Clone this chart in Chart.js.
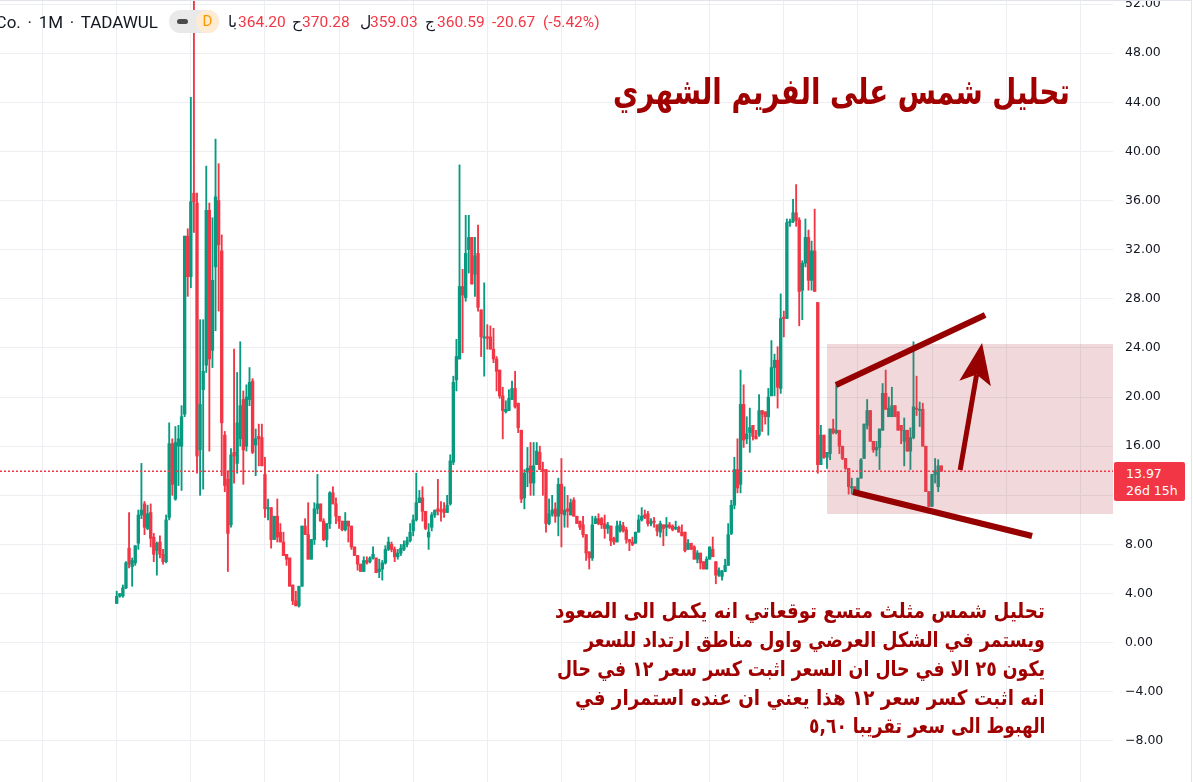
<!DOCTYPE html>
<html lang="ar">
<head>
<meta charset="UTF-8" />
<title>تحليل شمس على الفريم الشهري</title>
<script src="https://cdn.jsdelivr.net/npm/chart.js@4.4.0/dist/chart.umd.min.js"></script>
<style>
  body { margin: 0; background: #fff; overflow: hidden; }
  .wrap { position: relative; width: 1193px; height: 782px; overflow: hidden; font-family: Roboto, 'DejaVu Sans', sans-serif; }
  .chart-box { position: absolute; left: 0; top: 0; width: 1193px; height: 782px; }
  .frame { position: absolute; left: 0; top: 0; width: 1191px; height: 782px; border-top: 1px solid #e0e3eb; border-right: 1px solid #e0e3eb; pointer-events: none; }
  .hdr { position: absolute; top: 12px; font-size: 15.5px; line-height: 20px; white-space: nowrap; color: #131722; }
  .hdr.red { color: #f23645; }
  .symbol { right: 1035px; font-size: 17px; word-spacing: 2.5px; }
  .pill { position: absolute; left: 169px; top: 10px; width: 50px; height: 23px; border-radius: 12px; background: #e9e9ea; }
  .pill .dash { position: absolute; left: 8px; top: 9px; width: 11px; height: 5px; border-radius: 3px; background: #4a4a4a; }
  .pill .d { position: absolute; left: 27px; top: 0; width: 23px; height: 23px; border-radius: 50%; background: #fdebd3; color: #ff9800; font-size: 15px; line-height: 23px; text-align: center; }
  .ar { position: absolute; white-space: nowrap; font-family: 'DejaVu Sans', sans-serif; font-weight: bold; color: #a00000; direction: rtl; transform-origin: right center; line-height: 1; }
  .title { right: 123px; top: 74px; font-size: 36px; }
  .note { right: 148px; font-size: 21px; }
  .last { position: absolute; left: 1114px; top: 462px; width: 71px; height: 39px; border-radius: 2px; background: #f23645; color: #fff; font-family: 'DejaVu Sans', sans-serif; font-size: 12.5px; line-height: 17px; padding: 3px 0 0 12px; box-sizing: border-box; }
</style>
</head>
<body>
<div class="wrap">
  <div class="chart-box"><canvas id="shamsChart"></canvas></div>
  <div class="frame"></div>

  <div class="hdr symbol">Co. · 1M · TADAWUL</div>
  <div class="pill"><div class="dash"></div><div class="d">D</div></div>
  <div class="hdr" style="left:228px">با</div>
  <div class="hdr red" style="left:238px">364.20</div>
  <div class="hdr" style="left:292px">ح</div>
  <div class="hdr red" style="left:302px">370.28</div>
  <div class="hdr" style="left:360px">ل</div>
  <div class="hdr red" style="left:370px">359.03</div>
  <div class="hdr" style="left:425px">ج</div>
  <div class="hdr red" style="left:437px">360.59</div>
  <div class="hdr red" style="left:492px">-20.67</div>
  <div class="hdr red" style="left:543px">(-5.42%)</div>

  <div class="ar title" data-w="457">تحليل شمس على الفريم الشهري</div>

  <div class="ar note" style="top:601px" data-w="490">تحليل شمس مثلث متسع توقعاتي انه يكمل الى الصعود</div>
  <div class="ar note" style="top:630px" data-w="461">ويستمر في الشكل العرضي واول مناطق ارتداد للسعر</div>
  <div class="ar note" style="top:659px" data-w="488">يكون ٢٥  الا في حال ان السعر اثبت كسر سعر ١٢  في حال</div>
  <div class="ar note" style="top:688px" data-w="470">انه اثبت كسر سعر ١٢ هذا يعني ان عنده استمرار في</div>
  <div class="ar note" style="top:716px" data-w="236">الهبوط الى سعر تقريبا ٥,٦٠</div>

  <div class="last">13.97<br>26d 15h</div>
</div>

<script>
  // monthly candles (index 0 = first month)
  const opens = [
    3.2, 3.8, 3.8, 4.46, 7.7, 6.2, 6.5, 8.1, 10.4, 11.3,
    9.3, 10.6, 8.6, 7.5, 8.2, 7.2, 6.6, 10.2, 16.2, 11.7,
    16.0, 16.0, 18.6, 33.1, 29.8, 36.6, 35.8, 15.7, 20.6, 22.6,
    35.2, 23.8, 30.6, 36.0, 31.9, 16.9, 13.3, 9.6, 15.5, 14.6,
    16.6, 19.8, 16.0, 19.8, 21.3, 16.1, 16.8, 16.7, 13.7, 10.9,
    11.0, 8.4, 10.3, 9.0, 8.2, 7.2, 6.9, 4.7, 3.4, 3.0,
    4.6, 9.5, 8.8, 6.8, 8.4, 10.9, 11.3, 9.9, 8.4, 9.7,
    12.2, 11.3, 10.3, 9.9, 9.2, 9.9, 9.5, 7.8, 7.1, 6.4,
    5.8, 6.7, 6.6, 6.9, 6.9, 5.8, 6.0, 6.5, 7.6, 8.0,
    7.6, 7.0, 7.3, 7.6, 8.0, 8.3, 9.1, 10.0, 11.4, 11.8,
    10.7, 8.6, 9.4, 10.4, 10.9, 10.8, 10.9, 10.6, 11.3, 14.7,
    21.4, 23.1, 29.0, 28.1, 32.0, 33.0, 30.0, 31.7, 27.1, 24.8,
    24.9, 24.9, 23.9, 23.1, 22.2, 20.1, 18.8, 18.9, 19.8, 20.7,
    19.5, 17.3, 11.8, 13.9, 14.4, 13.0, 14.5, 15.5, 14.1, 14.1,
    9.7, 10.5, 10.9, 10.3, 12.9, 10.4, 10.9, 10.4, 11.6, 10.3,
    9.9, 9.6, 8.8, 7.4, 6.9, 9.7, 10.1, 10.1, 9.7, 9.3,
    9.5, 8.5, 8.2, 9.1, 9.5, 9.2, 8.4, 8.2, 8.1, 9.0,
    10.0, 10.4, 10.5, 9.7, 9.9, 9.6, 9.0, 9.6, 9.4, 9.6,
    9.5, 9.3, 9.4, 9.0, 9.0, 7.6, 8.1, 7.8, 6.8, 7.3,
    6.6, 6.0, 6.8, 7.6, 6.6, 5.5, 5.4, 5.8, 6.3, 8.9,
    11.2, 14.1, 12.9, 19.4, 16.6, 17.1, 17.7, 16.8, 16.9, 18.9,
    18.8, 18.4, 20.1, 22.4, 23.0, 20.7, 26.5, 26.4, 34.2, 34.3,
    35.0, 34.4, 28.7, 30.9, 33.0, 29.5, 31.9, 27.7, 14.5, 16.9,
    15.1, 15.4, 17.4, 17.1, 17.3, 16.0, 15.0, 14.2, 12.6, 12.7,
    12.2, 13.4, 15.0, 17.7, 18.9, 16.4, 15.7, 15.9, 17.3, 20.3,
    18.4, 18.4, 19.3, 18.8, 17.7, 16.4, 17.3, 15.6, 16.7, 19.1,
    19.0, 19.0, 16.0, 12.3, 11.1, 13.7, 12.7, 14.4
  ];
  const highs = [
    4.2, 4.0, 4.7, 6.6, 10.6, 6.9, 7.9, 10.8, 14.6, 11.5,
    11.2, 11.3, 8.9, 8.2, 8.7, 7.6, 10.4, 17.9, 16.6, 17.6,
    17.7, 19.3, 33.1, 33.7, 44.4, 53.0, 36.6, 26.3, 26.3, 38.8,
    35.8, 34.6, 41.0, 39.0, 33.2, 17.2, 14.0, 15.8, 23.9, 22.0,
    24.5, 20.5, 21.0, 22.4, 21.5, 17.4, 17.8, 17.8, 15.1, 11.7,
    11.0, 10.3, 11.7, 9.7, 9.0, 7.2, 6.9, 4.7, 4.2, 4.6,
    9.5, 10.1, 11.4, 8.4, 11.4, 13.7, 11.3, 10.1, 9.7, 12.3,
    12.7, 11.8, 10.3, 9.9, 10.6, 9.9, 9.5, 7.8, 7.1, 6.4,
    7.0, 7.0, 7.0, 7.8, 6.9, 6.8, 6.7, 7.9, 8.6, 8.2,
    7.8, 7.6, 8.0, 8.3, 8.6, 9.7, 10.4, 13.8, 12.4, 12.7,
    10.7, 9.7, 10.6, 10.8, 13.3, 11.5, 11.4, 12.0, 15.3, 21.7,
    24.7, 38.9, 30.4, 34.8, 34.8, 33.0, 33.0, 34.0, 27.1, 29.3,
    25.9, 25.8, 25.6, 23.3, 22.2, 20.8, 19.7, 20.6, 21.3, 22.1,
    19.5, 17.3, 14.1, 15.9, 16.3, 16.3, 16.3, 16.0, 14.7, 14.1,
    11.7, 12.0, 11.4, 13.4, 15.0, 12.7, 12.0, 11.7, 11.8, 10.3,
    9.9, 10.3, 8.8, 7.4, 10.3, 10.3, 10.5, 10.2, 10.4, 9.8,
    9.5, 8.6, 9.9, 9.9, 9.8, 9.4, 8.4, 8.6, 9.0, 10.4,
    11.0, 10.8, 10.7, 10.1, 10.2, 9.6, 9.9, 9.6, 10.2, 9.8,
    9.6, 9.9, 9.5, 9.6, 9.0, 8.4, 8.1, 7.9, 7.5, 7.3,
    6.6, 7.0, 7.8, 8.6, 6.6, 6.1, 5.9, 6.8, 9.7, 11.6,
    15.1, 16.6, 22.2, 21.0, 18.4, 19.1, 17.7, 17.3, 20.2, 18.9,
    18.8, 20.7, 24.6, 23.5, 24.1, 28.4, 27.0, 34.5, 34.5, 36.1,
    37.3, 34.6, 31.1, 34.5, 33.6, 32.7, 35.3, 27.7, 17.7, 16.9,
    15.5, 17.4, 18.2, 21.0, 17.3, 16.0, 15.0, 14.2, 13.4, 12.7,
    13.4, 15.0, 17.8, 19.8, 18.9, 16.4, 16.4, 17.4, 21.1, 22.2,
    20.0, 20.8, 19.3, 18.8, 17.7, 18.3, 17.3, 17.5, 24.5, 21.7,
    19.6, 19.5, 16.0, 12.3, 13.7, 15.0, 14.9, 14.4
  ];
  const lows = [
    3.2, 3.7, 3.7, 4.4, 6.1, 4.6, 6.3, 7.6, 10.1, 8.8,
    9.2, 7.8, 6.6, 5.5, 6.9, 6.4, 6.5, 10.0, 12.0, 11.6,
    12.8, 12.4, 18.4, 28.2, 28.9, 33.4, 13.8, 12.0, 12.5, 22.0,
    15.6, 22.4, 25.4, 27.0, 13.6, 12.3, 5.8, 9.4, 13.0, 13.8,
    16.0, 12.9, 15.6, 19.3, 15.4, 13.6, 14.4, 14.4, 10.2, 10.0,
    7.7, 8.4, 8.2, 8.2, 7.1, 6.3, 4.6, 3.1, 3.0, 2.9,
    4.6, 8.8, 6.8, 6.8, 8.0, 10.5, 9.9, 8.3, 7.8, 9.3,
    11.3, 9.7, 9.3, 9.1, 9.1, 8.2, 7.6, 7.1, 5.9, 5.8,
    5.8, 6.4, 6.5, 6.8, 5.7, 5.3, 5.1, 6.4, 7.5, 7.4,
    6.6, 6.8, 7.1, 7.5, 7.8, 8.2, 8.7, 9.9, 11.4, 9.9,
    9.2, 7.6, 9.1, 10.2, 10.4, 9.9, 10.2, 10.6, 11.2, 14.5,
    20.5, 23.1, 23.6, 27.8, 30.1, 29.2, 28.2, 27.0, 23.3, 21.7,
    23.9, 23.9, 22.8, 20.5, 19.9, 16.6, 18.7, 18.9, 19.8, 19.1,
    17.1, 11.4, 10.9, 12.7, 12.0, 12.0, 14.5, 14.1, 12.0, 9.0,
    9.6, 10.3, 9.8, 8.7, 7.8, 9.4, 9.4, 10.4, 10.3, 9.7,
    9.2, 8.6, 6.7, 6.0, 6.7, 9.7, 9.6, 9.3, 8.5, 8.9,
    7.9, 8.0, 8.2, 9.0, 9.0, 8.1, 7.5, 7.9, 8.1, 9.0,
    9.9, 10.1, 9.5, 9.5, 9.4, 8.7, 8.6, 7.9, 8.7, 9.3,
    9.1, 9.2, 9.0, 8.7, 7.4, 7.6, 7.6, 6.8, 6.5, 6.0,
    6.0, 6.0, 6.8, 7.0, 4.8, 5.4, 5.1, 5.8, 6.3, 8.8,
    10.9, 12.2, 12.2, 15.9, 16.2, 15.5, 16.5, 16.6, 16.8, 17.2,
    17.8, 16.9, 20.1, 20.1, 19.1, 20.3, 24.9, 26.4, 33.9, 34.2,
    33.9, 25.8, 26.3, 30.6, 28.7, 28.7, 28.6, 13.8, 14.5, 15.0,
    14.2, 14.9, 17.0, 17.0, 15.4, 14.9, 14.1, 12.1, 12.1, 12.2,
    12.2, 13.4, 15.0, 17.4, 16.4, 15.5, 15.2, 14.1, 17.3, 19.0,
    18.4, 18.4, 18.4, 17.3, 16.2, 14.4, 15.6, 14.1, 16.6, 18.5,
    17.6, 16.0, 12.3, 11.1, 11.1, 13.0, 12.3, 13.97
  ];
  const closes = [
    3.77, 4.0, 4.46, 6.5, 6.4, 6.7, 7.9, 10.4, 10.8, 9.4,
    10.5, 8.5, 7.2, 8.1, 7.2, 6.6, 10.0, 16.2, 12.9, 16.3,
    16.6, 18.4, 33.1, 29.8, 35.9, 35.9, 15.2, 19.4, 22.1, 35.2,
    23.1, 29.5, 36.3, 32.4, 17.9, 12.8, 8.9, 15.3, 15.2, 17.9,
    19.3, 15.7, 20.0, 21.2, 15.5, 16.6, 16.6, 14.4, 10.9, 11.0,
    8.4, 10.3, 8.6, 8.2, 7.1, 6.8, 4.6, 3.4, 3.0, 4.6,
    9.5, 8.8, 6.8, 8.4, 10.9, 11.3, 9.9, 8.4, 9.7, 12.2,
    11.3, 10.3, 9.9, 9.2, 9.9, 9.5, 7.8, 7.1, 6.4, 5.8,
    6.7, 6.5, 6.9, 7.2, 5.7, 6.0, 6.5, 7.6, 8.2, 7.6,
    7.0, 7.3, 7.7, 8.0, 8.3, 9.0, 10.0, 11.4, 11.8, 10.7,
    9.3, 9.0, 10.4, 10.8, 10.7, 10.7, 10.6, 11.2, 14.8, 21.2,
    23.3, 29.0, 28.3, 31.7, 33.0, 29.2, 31.5, 27.3, 24.9, 24.9,
    24.8, 23.9, 23.1, 22.1, 20.1, 18.9, 19.0, 19.9, 20.7, 19.2,
    17.5, 11.7, 13.8, 14.2, 13.0, 14.4, 15.6, 14.1, 14.0, 9.7,
    10.5, 10.8, 10.3, 12.9, 10.5, 10.8, 10.7, 11.4, 10.3, 9.7,
    9.4, 8.8, 7.3, 6.9, 9.6, 10.1, 9.7, 9.6, 9.3, 9.6,
    8.3, 8.2, 9.5, 9.6, 9.1, 8.4, 8.2, 8.0, 9.0, 10.0,
    10.3, 10.2, 9.7, 9.9, 9.8, 9.1, 9.7, 9.3, 9.6, 9.4,
    9.2, 9.4, 9.0, 8.7, 7.5, 8.1, 7.6, 6.8, 7.3, 6.5,
    6.0, 6.8, 7.8, 7.0, 5.5, 5.9, 5.8, 6.3, 8.8, 11.2,
    14.1, 12.6, 19.4, 16.5, 17.0, 17.5, 16.8, 16.6, 18.9, 18.6,
    18.4, 20.0, 22.4, 23.0, 20.8, 26.4, 26.4, 34.2, 34.3, 35.0,
    34.4, 28.6, 30.9, 33.0, 29.5, 31.9, 28.6, 14.5, 16.9, 15.1,
    15.5, 17.4, 17.1, 17.3, 16.0, 15.0, 14.2, 12.7, 12.7, 12.2,
    13.4, 14.9, 17.8, 18.9, 16.4, 15.7, 15.9, 17.4, 20.3, 19.0,
    19.1, 19.3, 18.4, 17.3, 17.3, 17.3, 15.6, 16.7, 19.2, 19.0,
    19.0, 16.0, 12.3, 11.1, 13.7, 14.0, 14.4, 13.97
  ];

  // price axis ticks and the two-year time grid (in month index)
  const priceTicks = [-8, -4, 0, 4, 8, 12, 16, 20, 24, 28, 32, 36, 40, 44, 48, 52];
  const timeGrid = [-24, 0, 24, 48, 72, 96, 120, 144, 168, 192, 216, 240, 264, 288, 312];

  // drawings on the chart, in (month index, price)
  const zone = { from: 230.0, top: 24.32, bottom: 10.48 };
  const upperLine = [[232.9, 20.98], [281.2, 26.68]];
  const lowerLine = [[238.4, 12.27], [296.4, 8.69]];
  const arrowLine = [[273.1, 14.06], [280.2, 24.4]];

  const UP = '#089981';
  const DOWN = '#f23645';
  const MAROON = '#960000';

  const idx = opens.map((_, i) => i);
  const candleColors = idx.map(i => closes[i] >= opens[i] ? UP : DOWN);

  const noPadding = axis => {
    axis.paddingTop = 0;
    axis.paddingBottom = 0;
    axis.paddingLeft = 0;
    axis.paddingRight = 0;
  };

  const drawings = {
    id: 'drawings',
    afterDatasetsDraw(chart) {
      const { ctx, chartArea: a, scales: { x, y } } = chart;
      const pt = (p) => [x.getPixelForValue(p[0]), y.getPixelForValue(p[1])];
      ctx.save();
      ctx.beginPath();
      ctx.rect(a.left, a.top, a.right - a.left, a.bottom - a.top);
      ctx.clip();

      // shaded zone
      const zx = x.getPixelForValue(zone.from);
      const zt = y.getPixelForValue(zone.top);
      const zb = y.getPixelForValue(zone.bottom);
      ctx.fillStyle = 'rgba(190, 80, 90, 0.22)';
      ctx.fillRect(zx, zt, a.right - zx, zb - zt);

      // wedge lines
      ctx.strokeStyle = MAROON;
      ctx.lineWidth = 6;
      ctx.lineCap = 'butt';
      [upperLine, lowerLine].forEach(line => {
        const p0 = pt(line[0]), p1 = pt(line[1]);
        ctx.beginPath();
        ctx.moveTo(p0[0], p0[1]);
        ctx.lineTo(p1[0], p1[1]);
        ctx.stroke();
      });

      // arrow up
      const b = pt(arrowLine[0]), t = pt(arrowLine[1]);
      const len = Math.hypot(t[0] - b[0], t[1] - b[1]);
      const ux = (t[0] - b[0]) / len, uy = (t[1] - b[1]) / len;
      const nx = -uy, ny = ux;
      const headLen = 41, headHalf = 16, notch = 9;
      ctx.lineWidth = 5;
      ctx.beginPath();
      ctx.moveTo(b[0], b[1]);
      ctx.lineTo(t[0] - ux * (headLen - notch), t[1] - uy * (headLen - notch));
      ctx.stroke();
      ctx.fillStyle = MAROON;
      ctx.beginPath();
      ctx.moveTo(t[0], t[1]);
      ctx.lineTo(t[0] - ux * headLen + nx * headHalf, t[1] - uy * headLen + ny * headHalf);
      ctx.lineTo(t[0] - ux * (headLen - notch), t[1] - uy * (headLen - notch));
      ctx.lineTo(t[0] - ux * headLen - nx * headHalf, t[1] - uy * headLen - ny * headHalf);
      ctx.closePath();
      ctx.fill();

      // last price line
      const py = y.getPixelForValue(closes[closes.length - 1]);
      ctx.strokeStyle = DOWN;
      ctx.lineWidth = 1.5;
      ctx.setLineDash([2, 2]);
      ctx.beginPath();
      ctx.moveTo(a.left, py);
      ctx.lineTo(a.right, py);
      ctx.stroke();
      ctx.restore();
    }
  };

  const ctx = document.getElementById('shamsChart').getContext('2d');
  new Chart(ctx, {
    type: 'bar',
    data: {
      datasets: [
        {
          label: 'wick',
          data: idx.map(i => ({ x: i, y: [lows[i], highs[i]] })),
          backgroundColor: candleColors,
          barThickness: 1.2,
          grouped: false,
          minBarLength: 1,
          order: 2
        },
        {
          label: 'body',
          data: idx.map(i => ({ x: i, y: [opens[i], closes[i]] })),
          backgroundColor: candleColors,
          barThickness: 2.7,
          grouped: false,
          minBarLength: 1,
          order: 1
        }
      ]
    },
    options: {
      responsive: true,
      maintainAspectRatio: false,
      animation: false,
      layout: { padding: 0 },
      plugins: { legend: { display: false }, tooltip: { enabled: false } },
      scales: {
        x: {
          type: 'linear',
          offset: false,
          min: -37.79,
          max: 322.6,
          afterBuildTicks: axis => { axis.ticks = timeGrid.map(v => ({ value: v })); },
          afterFit: axis => { axis.height = 0; noPadding(axis); },
          ticks: { display: false },
          grid: { color: '#eceef1', drawTicks: false, offset: false },
          border: { display: false }
        },
        y: {
          position: 'right',
          min: -11.338,
          max: 52.326,
          afterBuildTicks: axis => { axis.ticks = priceTicks.map(v => ({ value: v })); },
          afterFit: axis => { axis.width = 80; noPadding(axis); },
          ticks: {
            padding: 12,
            color: '#131722',
            font: { family: 'DejaVu Sans', size: 12.5 },
            callback: v => (v < 0 ? '\u2212' : '') + Math.abs(v).toFixed(2)
          },
          grid: { color: '#eceef1', drawTicks: false },
          border: { display: false }
        }
      }
    },
    plugins: [drawings]
  });

  // squeeze the arabic lines to the widths they take in the picture
  document.querySelectorAll('.ar').forEach(el => {
    const w = el.offsetWidth;
    el.style.transform = 'scaleX(' + (el.dataset.w / w) + ')';
  });
</script>
</body>
</html>
